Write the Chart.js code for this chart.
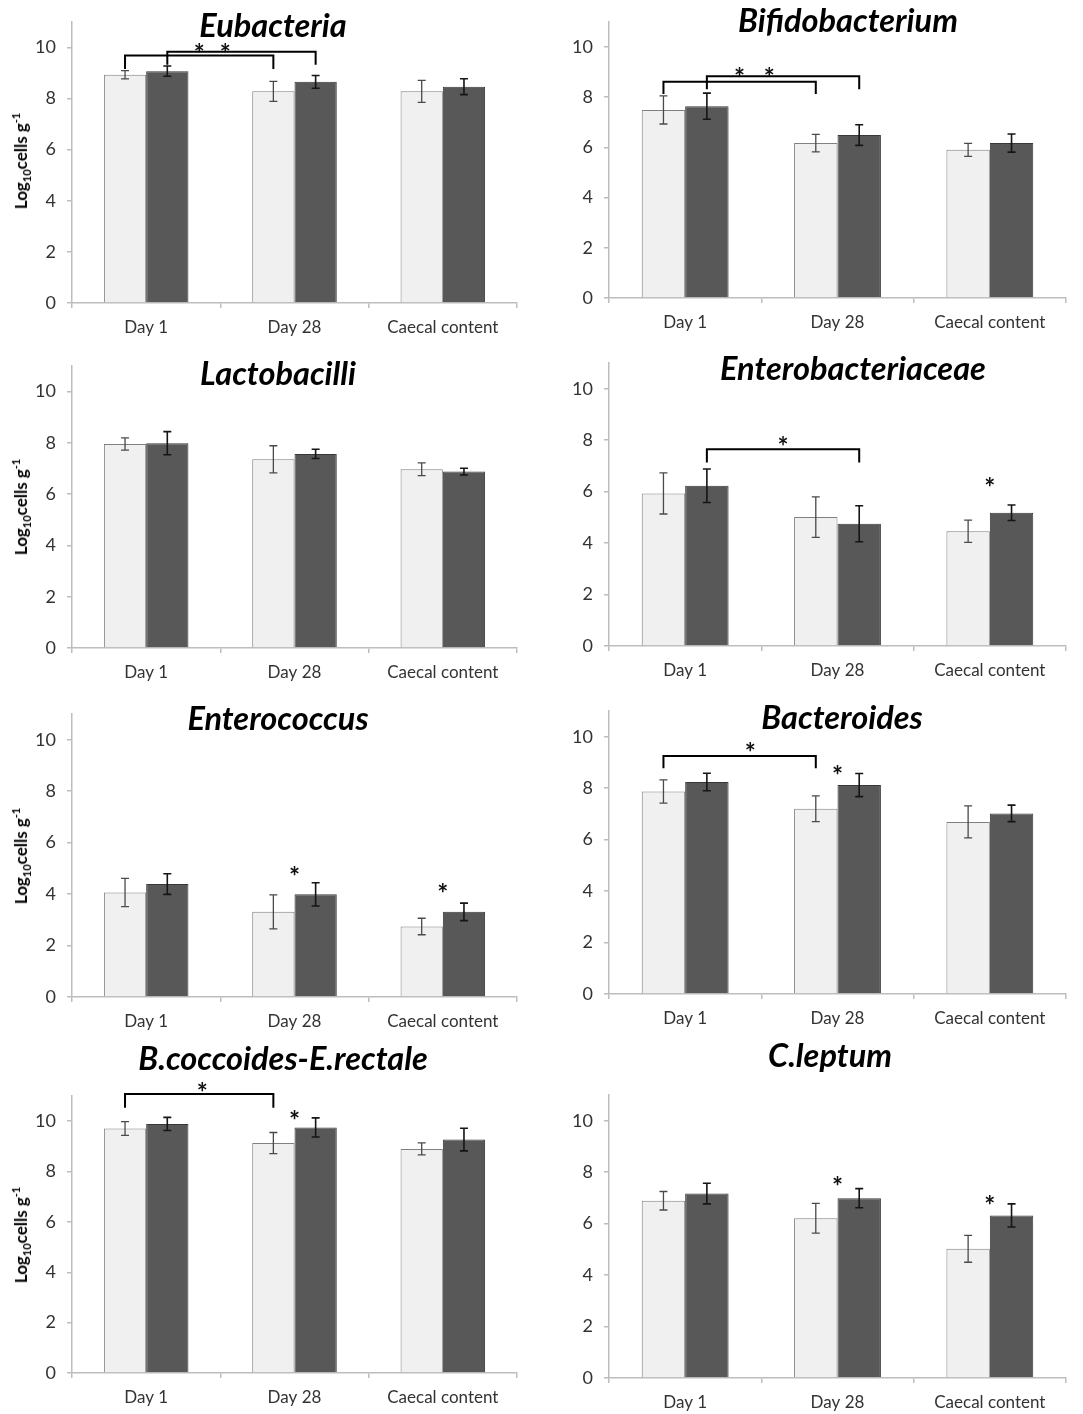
<!DOCTYPE html>
<html>
<head>
<meta charset="utf-8">
<script src="https://cdn.jsdelivr.net/npm/chart.js@4.4.0/dist/chart.umd.min.js"></script>
<style>
body{margin:0;background:#fff;width:1083px;height:1414px;position:relative;overflow:hidden;font-family:Lato}
canvas{position:absolute}
.titulo{position:absolute;font:italic 700 32.5px Lato;color:#000;transform:translate(-50%,-50%);white-space:nowrap;z-index:2}
.ylab{position:absolute;font:700 17px Lato;color:#000;transform:translate(-50%,-50%) rotate(-90deg);white-space:nowrap}
.ylab sub,.ylab sup{font-size:11px}
</style>
</head>
<body>
<script>
// dados
const categorias = ['Day 1', 'Day 28', 'Caecal content'];

const titulos = ['Eubacteria', 'Bifidobacterium', 'Lactobacilli', 'Enterobacteriaceae',
'Enterococcus', 'Bacteroides', 'B.coccoides-E.rectale', 'C.leptum'];

// barras claras
const controle = [
[8.93, 8.28, 8.28],
[7.49, 6.17, 5.90],
[7.96, 7.36, 6.97],
[5.93, 5.01, 4.46],
[4.06, 3.31, 2.74],
[7.87, 7.20, 6.69],
[9.71, 9.13, 8.90],
[6.89, 6.21, 5.02]
];

// barras escuras
const tratado = [
[9.07, 8.65, 8.46],
[7.64, 6.49, 6.17],
[7.99, 7.57, 6.88],
[6.23, 4.75, 5.18],
[4.39, 3.99, 3.31],
[8.24, 8.12, 7.02],
[9.89, 9.75, 9.27],
[7.17, 6.99, 6.32]
];

const erroControle = [
[0.16, 0.39, 0.43],
[0.56, 0.35, 0.26],
[0.24, 0.53, 0.25],
[0.80, 0.79, 0.43],
[0.55, 0.66, 0.32],
[0.45, 0.50, 0.62],
[0.27, 0.42, 0.24],
[0.36, 0.58, 0.52]
];

const erroTratado = [
[0.20, 0.25, 0.31],
[0.52, 0.41, 0.36],
[0.45, 0.18, 0.13],
[0.65, 0.70, 0.30],
[0.40, 0.45, 0.34],
[0.34, 0.45, 0.32],
[0.26, 0.38, 0.45],
[0.40, 0.37, 0.45]
];

const ticksY = [0, 2, 4, 6, 8, 10];

// colchetes de significancia: serie, categoria inicial e final, topo, fim das pernas, posicao do asterisco
const colchetes = [
[{serie:0, de:0, ate:1, topo:9.68, perna:9.15, ast:0.5, astY:9.94},
 {serie:1, de:0, ate:1, topo:9.83, perna:9.32, ast:0.39, astY:9.94}],
[{serie:0, de:0, ate:1, topo:8.61, perna:8.12, ast:0.5, astY:8.96},
 {serie:1, de:0, ate:1, topo:8.83, perna:8.31, ast:0.41, astY:8.96}],
[],
[{serie:1, de:0, ate:1, topo:7.65, perna:7.13, ast:0.5, astY:7.95}],
[],
[{serie:0, de:0, ate:1, topo:9.25, perna:8.77, ast:0.57, astY:9.57}],
[{serie:0, de:0, ate:1, topo:11.08, perna:10.53, ast:0.52, astY:11.35}],
[]
];

// asteriscos isolados: categoria e altura
const asteriscos = [
[],
[],
[],
[{cat:2, y:6.36}],
[{cat:1, y:4.87}, {cat:2, y:4.22}],
[{cat:1, y:8.70}],
[{cat:1, y:10.22}],
[{cat:1, y:7.63}, {cat:2, y:6.91}]
];

// layout da pagina: area do grafico (esquerda, topo, direita, base) e titulos
const areas = [
[72, 19, 517, 303], [609, 16, 1066, 298],
[72, 366, 517, 648], [609, 363, 1066, 646],
[72, 714, 517, 997], [609, 711, 1066, 994],
[72, 1096, 517, 1373], [609, 1095, 1066, 1378]
];
const posTitulos = [[273,24],[848,19],[278,372],[853,367],[278,717],[842,716],[283,1057],[830,1054]];

Chart.defaults.font.family = 'Lato';

function desenhaAsterisco(ctx, x, y){
ctx.save();
ctx.fillStyle = '#111';
ctx.font = '700 26px Lato';
ctx.textAlign = 'center';
ctx.textBaseline = 'middle';
ctx.fillText('*', x, y + 6);
ctx.restore();
}

const pluginErros = {
id:'erros',
afterDatasetsDraw(chart){
const ctx = chart.ctx;
const y = chart.scales.y;
chart.data.datasets.forEach((ds, i) => {
const meta = chart.getDatasetMeta(i);
meta.data.forEach((bar, j) => {
const v = ds.data[j];
const e = ds.erros[j];
const y1 = y.getPixelForValue(v + e);
const y2 = y.getPixelForValue(v - e);
ctx.save();
ctx.strokeStyle = i == 0 ? '#4a4a4a' : '#151515';
ctx.lineWidth = i == 0 ? 1.3 : 1.6;
ctx.beginPath();
ctx.moveTo(bar.x, y1); ctx.lineTo(bar.x, y2);
ctx.moveTo(bar.x - 4, y1); ctx.lineTo(bar.x + 4, y1);
ctx.moveTo(bar.x - 4, y2); ctx.lineTo(bar.x + 4, y2);
ctx.stroke();
ctx.restore();
});
});
}
};

const pluginSignif = {
id:'signif',
afterDraw(chart){
const ctx = chart.ctx;
const y = chart.scales.y;
const n = chart.options.painel;
colchetes[n].forEach(c => {
const meta = chart.getDatasetMeta(c.serie);
const xa = meta.data[c.de].x;
const xb = meta.data[c.ate].x;
const yt = y.getPixelForValue(c.topo);
const yp = y.getPixelForValue(c.perna);
ctx.save();
ctx.strokeStyle = '#000';
ctx.lineWidth = 2;
ctx.beginPath();
ctx.moveTo(xa, yp); ctx.lineTo(xa, yt); ctx.lineTo(xb, yt); ctx.lineTo(xb, yp);
ctx.stroke();
ctx.restore();
desenhaAsterisco(ctx, xa + (xb - xa) * c.ast, y.getPixelForValue(c.astY));
});
asteriscos[n].forEach(a => {
const x = chart.scales.x.getPixelForValue(a.cat);
desenhaAsterisco(ctx, x, y.getPixelForValue(a.y));
});
}
};

function criaPainel(n){
const [L, T, R, B] = areas[n];
const padTop = Math.min(24, T);
const canvas = document.createElement('canvas');
canvas.width = R - L + 62 + 12;
canvas.height = padTop + (B - T) + 40;
canvas.style.left = (L - 62) + 'px';
canvas.style.top = (T - padTop) + 'px';
document.body.appendChild(canvas);

const t = document.createElement('div');
t.className = 'titulo';
t.textContent = titulos[n];
t.style.left = posTitulos[n][0] + 'px';
t.style.top = posTitulos[n][1] + 'px';
document.body.appendChild(t);

if(n % 2 == 0){
const yl = document.createElement('div');
yl.className = 'ylab';
yl.innerHTML = 'Log<sub>10</sub>cells g<sup>-1</sup>';
yl.style.left = '21px';
yl.style.top = ((T + B) / 2) + 'px';
document.body.appendChild(yl);
}

new Chart(canvas, {
type:'bar',
data:{
labels:categorias,
datasets:[
{data:controle[n], erros:erroControle[n], backgroundColor:'#f0f0f0', borderColor:'#808080', borderWidth:1},
{data:tratado[n], erros:erroTratado[n], backgroundColor:'#585858', borderColor:'#383838', borderWidth:1}
]
},
options:{
painel:n,
responsive:false,
animation:false,
layout:{padding:{top:padTop, right:12, left:0, bottom:0}},
plugins:{legend:{display:false}, tooltip:{enabled:false}},
datasets:{bar:{categoryPercentage:0.57, barPercentage:1}},
scales:{
x:{
offset:true,
grid:{display:true, drawOnChartArea:false, drawTicks:true, tickLength:5, color:'#bdbdbd', lineWidth:1.5, offset:true},
border:{display:true, color:'#bdbdbd', width:1.5},
ticks:{color:'#333', font:{size:17}, padding:9, maxRotation:0},
afterFit:s => { s.height = 40; }
},
y:{
min:0, max:11,
grid:{display:true, drawOnChartArea:false, drawTicks:true, tickLength:5, color:'#bdbdbd', lineWidth:1.5},
border:{display:true, color:'#bdbdbd', width:1.5},
ticks:{color:'#333', font:{size:18}, padding:11},
afterBuildTicks:s => { s.ticks = ticksY.map(v => ({value:v})); },
afterFit:s => { s.width = 62; }
}
}
},
plugins:[pluginErros, pluginSignif]
});
}

for(let n = 0; n < 8; n++){
criaPainel(n);
}
</script>
</body>
</html>
